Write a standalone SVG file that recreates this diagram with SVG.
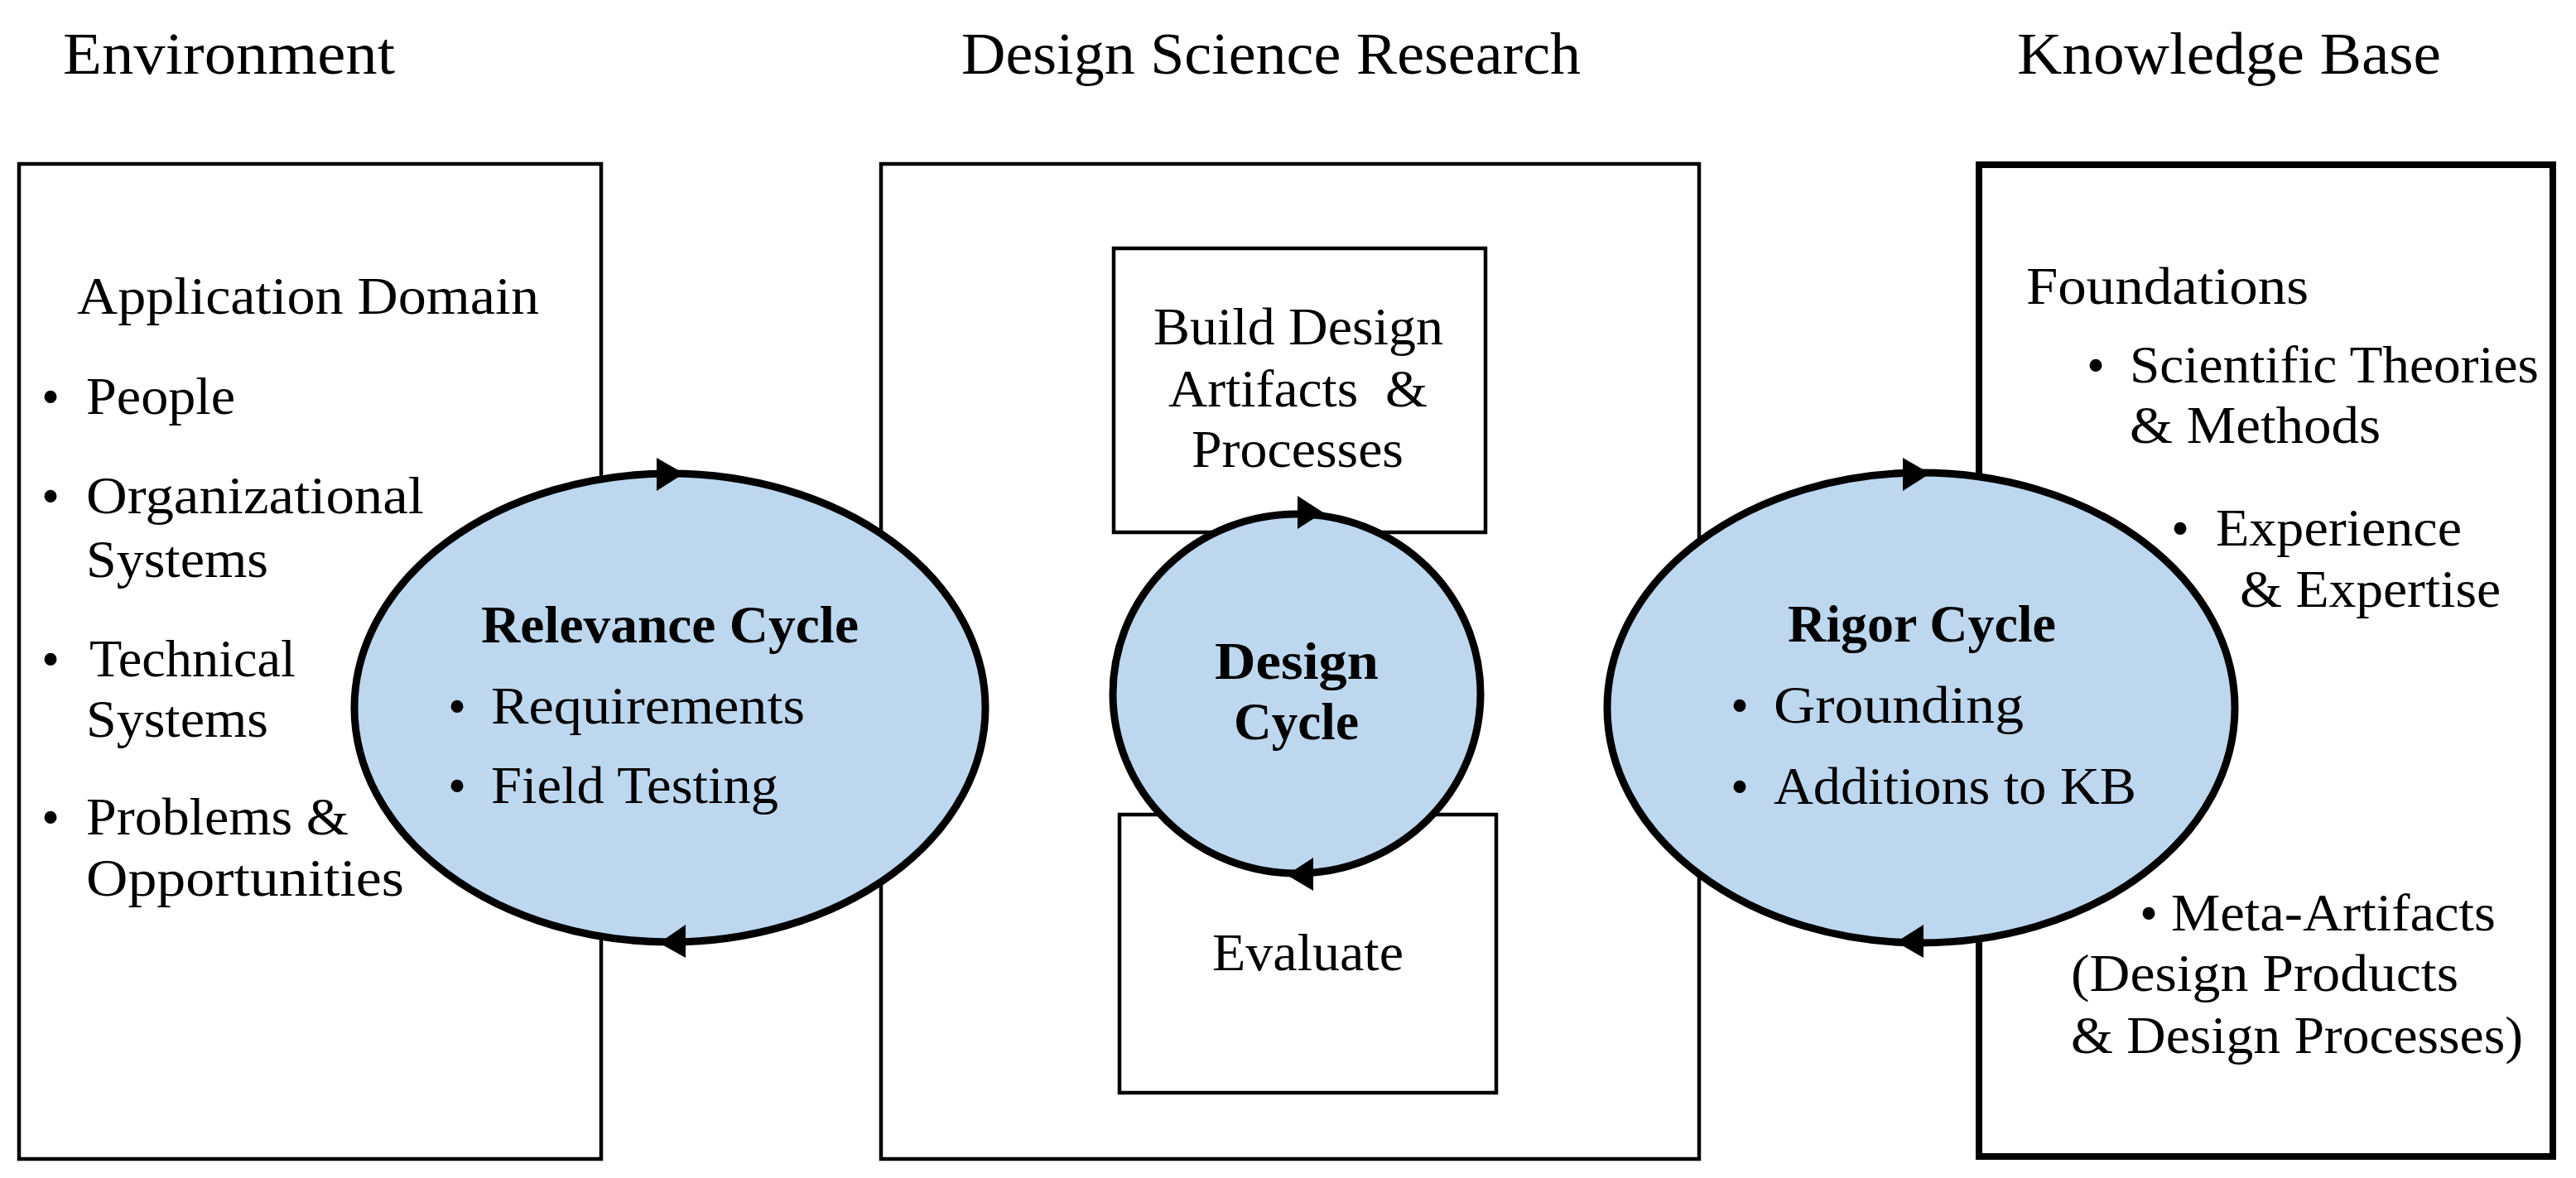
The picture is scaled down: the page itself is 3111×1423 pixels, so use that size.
<svg xmlns="http://www.w3.org/2000/svg" width="3111" height="1423" viewBox="0 0 3111 1423">
<style>
text{font-family:"Liberation Serif","Times New Roman",serif;fill:#000}
.h{font-size:72px}
.t{font-size:63px}
.b{font-size:63px;font-weight:bold}
.box{fill:none;stroke:#000;stroke-width:4.5}
.kb{fill:none;stroke:#000;stroke-width:8}
.cyc{fill:#BDD7EE;stroke:#000;stroke-width:9}
.arr{fill:#000;stroke:none}
</style>
<rect width="3111" height="1423" fill="#fff"/>

<g id="headers">
<text class="h" x="76" y="89" textLength="401" lengthAdjust="spacingAndGlyphs">Environment</text>
<text class="h" x="1161" y="89" textLength="748" lengthAdjust="spacingAndGlyphs">Design Science Research</text>
<text class="h" x="2436" y="89" textLength="512" lengthAdjust="spacingAndGlyphs">Knowledge Base</text>
</g>

<g id="environment">
<rect class="box" x="23" y="198" width="703" height="1202"/>
<text class="t" x="93" y="379" textLength="558" lengthAdjust="spacingAndGlyphs">Application Domain</text>
<text class="t" x="61" y="500" text-anchor="middle">•</text>
<text class="t" x="104" y="500" textLength="180" lengthAdjust="spacingAndGlyphs">People</text>
<text class="t" x="61" y="620" text-anchor="middle">•</text>
<text class="t" x="104" y="620" textLength="408" lengthAdjust="spacingAndGlyphs">Organizational</text>
<text class="t" x="104" y="697" textLength="220" lengthAdjust="spacingAndGlyphs">Systems</text>
<text class="t" x="61" y="817" text-anchor="middle">•</text>
<text class="t" x="108" y="817" textLength="249" lengthAdjust="spacingAndGlyphs">Technical</text>
<text class="t" x="104" y="890" textLength="220" lengthAdjust="spacingAndGlyphs">Systems</text>
<text class="t" x="61" y="1008" text-anchor="middle">•</text>
<text class="t" x="104" y="1008" textLength="317" lengthAdjust="spacingAndGlyphs">Problems &amp;</text>
<text class="t" x="104" y="1082" textLength="384" lengthAdjust="spacingAndGlyphs">Opportunities</text>
</g>

<g id="design-science-research">
<rect class="box" x="1064" y="198" width="988" height="1202"/>
</g>

<g id="build">
<rect class="box" x="1345" y="300" width="449" height="343"/>
<text class="t" x="1393" y="416" textLength="350" lengthAdjust="spacingAndGlyphs">Build Design</text>
<text class="t" x="1411" y="491" textLength="313" lengthAdjust="spacingAndGlyphs">Artifacts&#160; &amp;</text>
<text class="t" x="1439" y="564" textLength="256" lengthAdjust="spacingAndGlyphs">Processes</text>
</g>

<g id="evaluate">
<rect class="box" x="1352" y="984" width="455" height="336"/>
<text class="t" x="1464" y="1172" textLength="231" lengthAdjust="spacingAndGlyphs">Evaluate</text>
</g>

<g id="knowledge-base">
<rect class="kb" x="2390" y="199" width="693" height="1198"/>
<text class="t" x="2447" y="367" textLength="341" lengthAdjust="spacingAndGlyphs">Foundations</text>
<text class="t" x="2531" y="462" text-anchor="middle">•</text>
<text class="t" x="2572" y="462" textLength="494" lengthAdjust="spacingAndGlyphs">Scientific Theories</text>
<text class="t" x="2572" y="535" textLength="303" lengthAdjust="spacingAndGlyphs">&amp; Methods</text>
<text class="t" x="2633" y="659" text-anchor="middle">•</text>
<text class="t" x="2676" y="659" textLength="297" lengthAdjust="spacingAndGlyphs">Experience</text>
<text class="t" x="2705" y="733" textLength="315" lengthAdjust="spacingAndGlyphs">&amp; Expertise</text>
<text class="t" x="2595" y="1124" text-anchor="middle">•</text>
<text class="t" x="2622" y="1124" textLength="392" lengthAdjust="spacingAndGlyphs">Meta-Artifacts</text>
<text class="t" x="2501" y="1197" textLength="468" lengthAdjust="spacingAndGlyphs">(Design Products</text>
<text class="t" x="2501" y="1272" textLength="546" lengthAdjust="spacingAndGlyphs">&amp; Design Processes)</text>
</g>

<g id="relevance-cycle">
<ellipse class="cyc" cx="809" cy="855" rx="381" ry="283"/>
<text class="b" x="581" y="776" textLength="456" lengthAdjust="spacingAndGlyphs">Relevance Cycle</text>
<text class="t" x="552" y="874" text-anchor="middle">•</text>
<text class="t" x="593" y="874" textLength="379" lengthAdjust="spacingAndGlyphs">Requirements</text>
<text class="t" x="552" y="970" text-anchor="middle">•</text>
<text class="t" x="593" y="970" textLength="347" lengthAdjust="spacingAndGlyphs">Field Testing</text>
</g>

<g id="design-cycle">
<ellipse class="cyc" cx="1566" cy="838" rx="222" ry="217"/>
<text class="b" x="1467" y="820" textLength="198" lengthAdjust="spacingAndGlyphs">Design</text>
<text class="b" x="1490" y="893" textLength="151" lengthAdjust="spacingAndGlyphs">Cycle</text>
</g>

<g id="rigor-cycle">
<ellipse class="cyc" cx="2320" cy="855" rx="379" ry="284"/>
<text class="b" x="2159" y="775" textLength="324" lengthAdjust="spacingAndGlyphs">Rigor Cycle</text>
<text class="t" x="2101" y="873" text-anchor="middle">•</text>
<text class="t" x="2142" y="873" textLength="302" lengthAdjust="spacingAndGlyphs">Grounding</text>
<text class="t" x="2101" y="971" text-anchor="middle">•</text>
<text class="t" x="2142" y="971" textLength="438" lengthAdjust="spacingAndGlyphs">Additions to KB</text>
</g>

<g id="connectors">
<polygon class="arr" points="793,553 793,593 826,572"/>
<polygon class="arr" points="828,1117 828,1157 796,1139"/>
<polygon class="arr" points="1567,599 1567,639 1598,619"/>
<polygon class="arr" points="1586,1036 1586,1076 1554,1057"/>
<polygon class="arr" points="2298,553 2298,593 2331,572"/>
<polygon class="arr" points="2323,1117 2323,1157 2290,1138"/>
</g>
</svg>
